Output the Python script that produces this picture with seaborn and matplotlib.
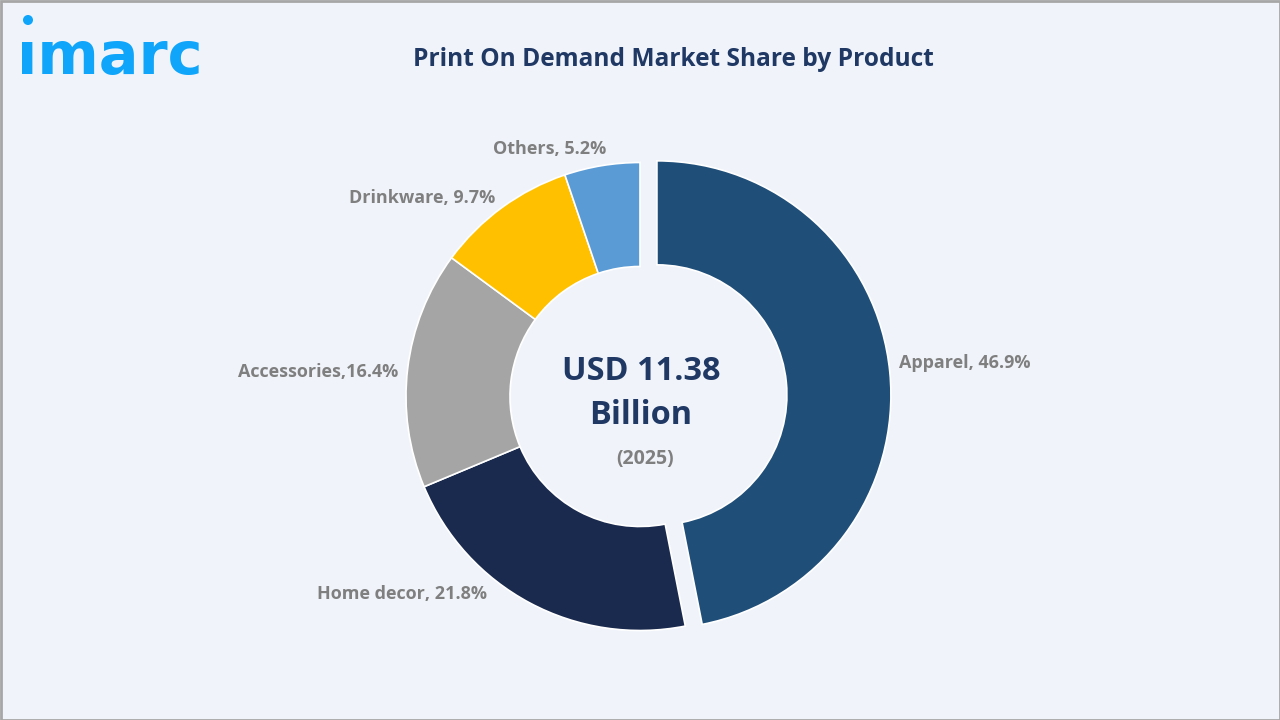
import matplotlib
matplotlib.use("Agg")
import matplotlib.pyplot as plt
from matplotlib.patches import Rectangle, Circle
import seaborn as sns

categories = ["Apparel", "Home decor", "Accessories", "Drinkware", "Others"]
shares = [46.9, 21.8, 16.4, 9.7, 5.2]
label_texts = ["Apparel, 46.9%", "Home decor, 21.8%", "Accessories,16.4%", "Drinkware, 9.7%", "Others, 5.2%"]
colors = ["#1F4E79", "#1A2A4E", "#A5A5A5", "#FFC000", "#5B9BD5"]
explode = [17, 0, 0, 0, 0]
label_x = [899, 317, 238, 349, 493]
label_y = [363, 594, 372, 198, 149]
BG = "#F0F4FA"

sns.set_theme(style="white")
plt.rcParams["font.family"] = ["Open Sans", "DejaVu Sans"]

fig = plt.figure(figsize=(12.8, 7.2), dpi=100, facecolor=BG)
ax = fig.add_axes([0, 0, 1, 1])
ax.pie(shares, colors=colors, explode=explode, startangle=90, counterclock=False,
       center=(640, 323.5), radius=234,
       wedgeprops=dict(width=104, edgecolor="#FFFFFF", linewidth=1.2))
ax.set_xlim(0, 1280)
ax.set_ylim(0, 720)
ax.set_aspect("equal")
ax.axis("off")

def T(x, y, s, **kw):
    ax.text(x, 720 - y, s, **kw)

for x, y, s in zip(label_x, label_y, label_texts):
    T(x, y, s, fontsize=13, color="#7F7F7F", fontweight="bold", ha="left", va="center")

T(673, 60, "Print On Demand Market Share by Product", fontsize=17.65, color="#1F3864",
  fontweight="bold", ha="center", va="center")
T(641, 371, "USD 11.38", fontsize=23.4, color="#1F3864", fontweight="bold", ha="center", va="center")
T(641, 415, "Billion", fontsize=23.4, color="#1F3864", fontweight="bold", ha="center", va="center")
T(645, 459, "(2025)", fontsize=14, color="#7F7F7F", fontweight="bold", ha="center", va="center")

T(110, 57.5, "ımarc", fontsize=42.5, color="#0EA5FB", fontweight="bold", ha="center", va="center", family="DejaVu Sans")
ax.add_patch(Circle((28, 720 - 20), 5, color="#0EA5FB", lw=0))

ax.add_patch(Rectangle((0.5, 0.5), 1279, 719, fill=False, edgecolor="#A6A6A6", linewidth=2))

fig.savefig("out.png", dpi=100, facecolor=BG)
